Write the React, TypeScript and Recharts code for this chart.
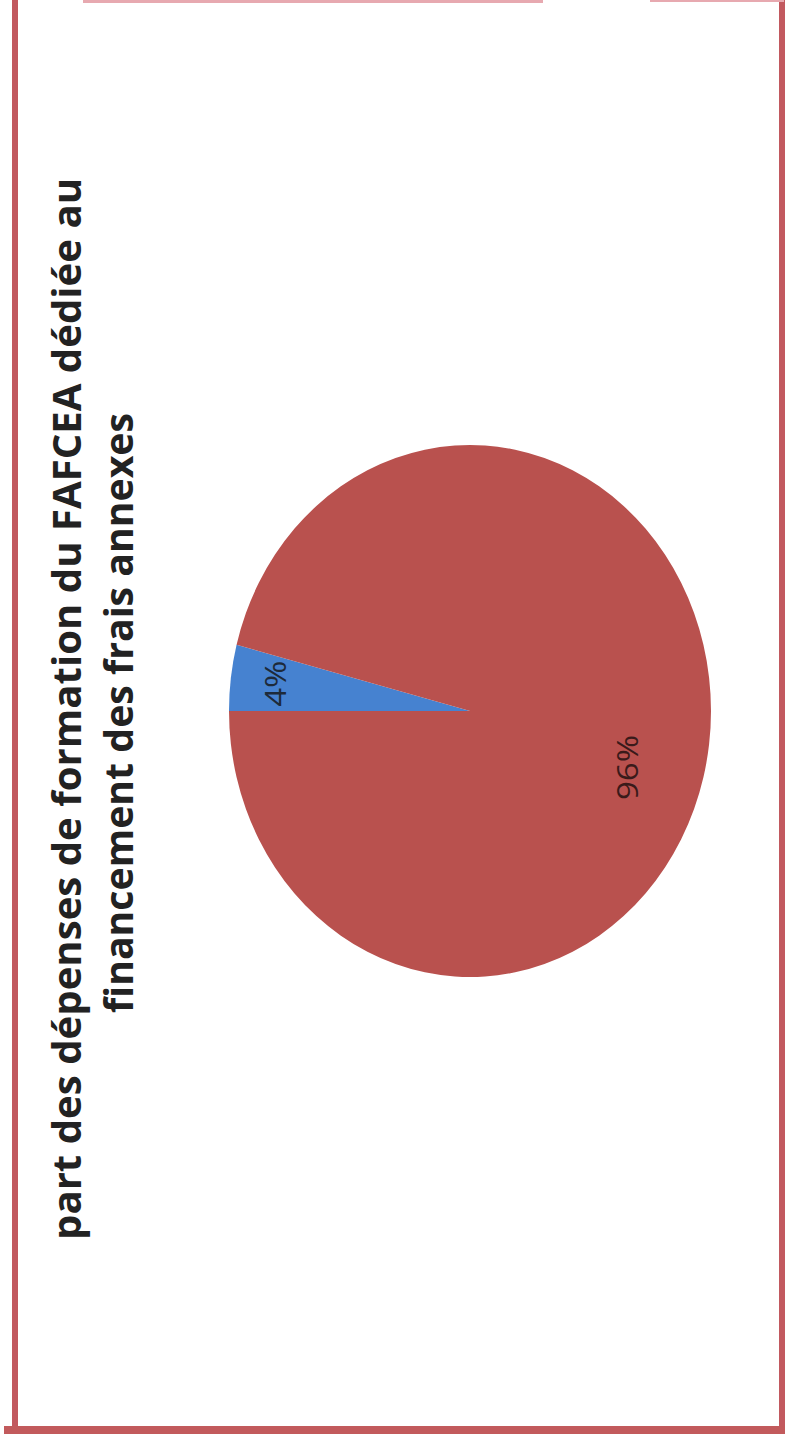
import React from 'react';
import { PieChart, Pie, Cell } from 'recharts';

const categories = ['Frais annexes', 'Autres dépenses de formation'];
const values = [4, 96];
const sliceLabels = ['4%', '96%'];
const sliceColors = ['#4682D0', '#B9514E'];
const titleLines = [
  'part des dépenses de formation du FAFCEA dédiée au',
  'financement des frais annexes',
];

const data = categories.map((name, i) => ({ name, value: values[i], label: sliceLabels[i] }));

const RAD = Math.PI / 180;
const PIE_CX = 470;
const PIE_CY = 711;
const STRETCH = 1.104;

const renderLabel = (props: any) => {
  const { cx, cy, midAngle, outerRadius, index } = props;
  const factor = index === 0 ? 0.82 : 0.68;
  const angle = midAngle + (index === 0 ? 0 : -11);
  const r = outerRadius * factor;
  const x = cx + r * Math.cos(-angle * RAD);
  const y = cy + r * Math.sin(-angle * RAD);
  return (
    <text
      x={x}
      y={y}
      transform={`rotate(-90, ${x}, ${y})`}
      textAnchor="middle"
      dominantBaseline="central"
      fontFamily="Open Sans, sans-serif"
      fontSize={30}
      fill={index === 0 ? '#1d2a3a' : '#3a1a1a'}
    >
      {sliceLabels[index]}
    </text>
  );
};

export default function App() {
  return (
    <div style={{ position: 'absolute', left: 0, top: 0, width: 786, height: 1438, background: '#fff', overflow: 'hidden' }}>
      {/* frame */}
      <div style={{ position: 'absolute', left: 12, top: 0, width: 6, height: 1434, background: '#C2595F' }} />
      <div style={{ position: 'absolute', left: 779, top: 0, width: 6, height: 1434, background: '#C2595F' }} />
      <div style={{ position: 'absolute', left: 4, top: 1426, width: 781, height: 8, background: '#C25A5C' }} />
      <div style={{ position: 'absolute', left: 83, top: 0, width: 460, height: 3, background: '#E7A9B0' }} />
      <div style={{ position: 'absolute', left: 650, top: 0, width: 134, height: 2, background: '#E7A9B0' }} />

      <div
        style={{
          position: 'absolute',
          left: 0,
          top: 0,
          width: 786,
          height: 1438,
          transform: `scaleY(${STRETCH})`,
          transformOrigin: `${PIE_CX}px ${PIE_CY}px`,
        }}
      >
        <PieChart width={786} height={1438} margin={{ top: 0, right: 0, bottom: 0, left: 0 }}>
          <Pie
            data={data}
            dataKey="value"
            nameKey="name"
            cx={PIE_CX}
            cy={PIE_CY}
            outerRadius={241}
            startAngle={180}
            endAngle={-180}
            stroke="none"
            label={renderLabel}
            labelLine={false}
            isAnimationActive={false}
          >
            {data.map((d, i) => (
              <Cell key={d.name} fill={sliceColors[i]} />
            ))}
          </Pie>
        </PieChart>
      </div>

      <svg width={786} height={1438} style={{ position: 'absolute', left: 0, top: 0, pointerEvents: 'none' }}>
        <text
          x={81}
          y={709}
          transform="rotate(-90, 81, 709)"
          textAnchor="middle"
          fontFamily="Open Sans, sans-serif"
          fontWeight={700}
          fontSize={39}
          fill="#222"
          textLength={1062}
          lengthAdjust="spacingAndGlyphs"
        >
          {titleLines[0]}
        </text>
        <text
          x={133}
          y={713}
          transform="rotate(-90, 133, 713)"
          textAnchor="middle"
          fontFamily="Open Sans, sans-serif"
          fontWeight={700}
          fontSize={39}
          fill="#222"
          textLength={600}
          lengthAdjust="spacingAndGlyphs"
        >
          {titleLines[1]}
        </text>
      </svg>
    </div>
  );
}
